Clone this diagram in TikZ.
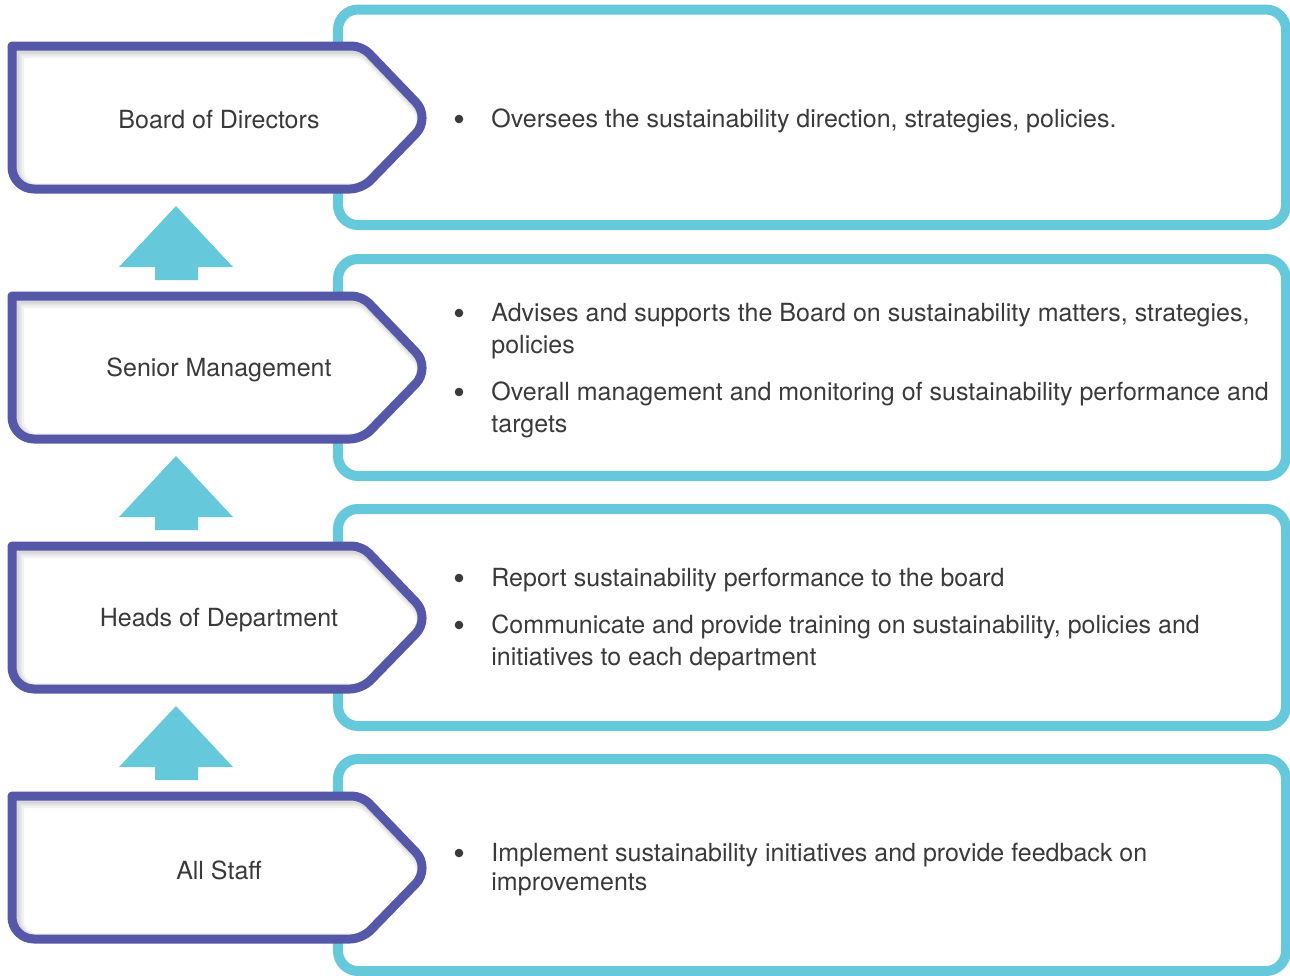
\documentclass[tikz,border=0pt]{standalone}
\usepackage{fontspec}
\setmainfont{TeX Gyre Heros}

\definecolor{tierpurple}{RGB}{85,88,168}
\definecolor{notecyan}{RGB}{102,201,219}
\definecolor{inktext}{RGB}{58,58,58}

% outline of one tier tag, shifted down by #1
\newcommand{\tieroutline}[1]{[shift={(0,#1)}]
  (12,117) -- (12,46) [rounded corners=5pt] -- (362,46) [rounded corners=11pt]
  -- (431,118) [rounded corners=6pt] -- (362,189) [rounded corners=11pt]
  -- (12,189) [rounded corners=5pt] -- cycle}

\tikzset{
  notebox/.style={draw=notecyan, line width=5pt, rounded corners=10pt},
  tiertag/.style={draw=tierpurple, line width=4.5pt, fill=white, line join=round},
  tierlabel/.style={font=\fontsize{12.5}{16}\selectfont, text=inktext},
  pointtext/.style={font=\fontsize{12.5}{16}\selectfont, text=inktext, align=left,
    anchor=west, inner sep=0pt},
  pointdot/.style={circle, fill=inktext, inner sep=0pt, minimum size=4.3pt},
  uparrow/.style={fill=notecyan}
}

\begin{document}
\begin{tikzpicture}[x=0.5pt, y=-0.5pt]
    \useasboundingbox (0,0) rectangle (1290,975);

    % Description boxes on the right
    \draw[notebox] (338,9.5) rectangle (1286,225);
    \draw[notebox] (338,259) rectangle (1286,476);
    \draw[notebox] (338,509) rectangle (1286,726);
    \draw[notebox] (338,759) rectangle (1286,971);

    % Tier tags with a soft inner shadow
    \foreach \off/\name/\txt in {0/board/Board of Directors, 250/senior/Senior Management,
        500/heads/Heads of Department, 750/staff/All Staff} {
        \fill[white] \tieroutline{\off};
        \begin{scope}
            \clip \tieroutline{\off};
            \draw[black, opacity=0.05, line width=9pt] [shift={(3,3)}] \tieroutline{\off};
            \draw[black, opacity=0.05, line width=7pt] [shift={(2.5,2.5)}] \tieroutline{\off};
            \draw[black, opacity=0.06, line width=5.5pt] [shift={(2,2)}] \tieroutline{\off};
        \end{scope}
        \draw[tiertag, fill=none] \tieroutline{\off};
        \node[tierlabel] (\name) at (219,120+\off) {\txt};
    }

    % Upward arrows between the tiers
    \foreach \off in {0,250,500} {
        \fill[uparrow, shift={(0,\off)}] (176,206) -- (233,267) -- (198,267) -- (198,280)
            -- (155,280) -- (155,267) -- (119,267) -- cycle;
    }

    % Board of Directors
    \node[pointdot] (d1) at (459,119) {};
    \node[pointtext] (oversee) at (491,121) {Oversees the sustainability direction, strategies, policies.};

    % Senior Management
    \node[pointdot] (d2) at (459,313) {};
    \node[pointtext] (advise) at (491,331) {Advises and supports the Board on sustainability matters, strategies,\\policies};
    \node[pointdot] (d3) at (459,392) {};
    \node[pointtext] (manage) at (491,410) {Overall management and monitoring of sustainability performance and\\targets};

    % Heads of Department
    \node[pointdot] (d4) at (459,578) {};
    \node[pointtext] (report) at (491,580) {Report sustainability performance to the board};
    \node[pointdot] (d5) at (459,625) {};
    \node[pointtext] (train) at (491,643) {Communicate and provide training on sustainability, policies and\\initiatives to each department};

    % All Staff
    \node[pointdot] (d6) at (459,853) {};
    \node[pointtext, font=\fontsize{12.5}{14.5}\selectfont] (implement) at (491,869.5) {Implement sustainability initiatives and provide feedback on\\improvements};
\end{tikzpicture}
\end{document}
